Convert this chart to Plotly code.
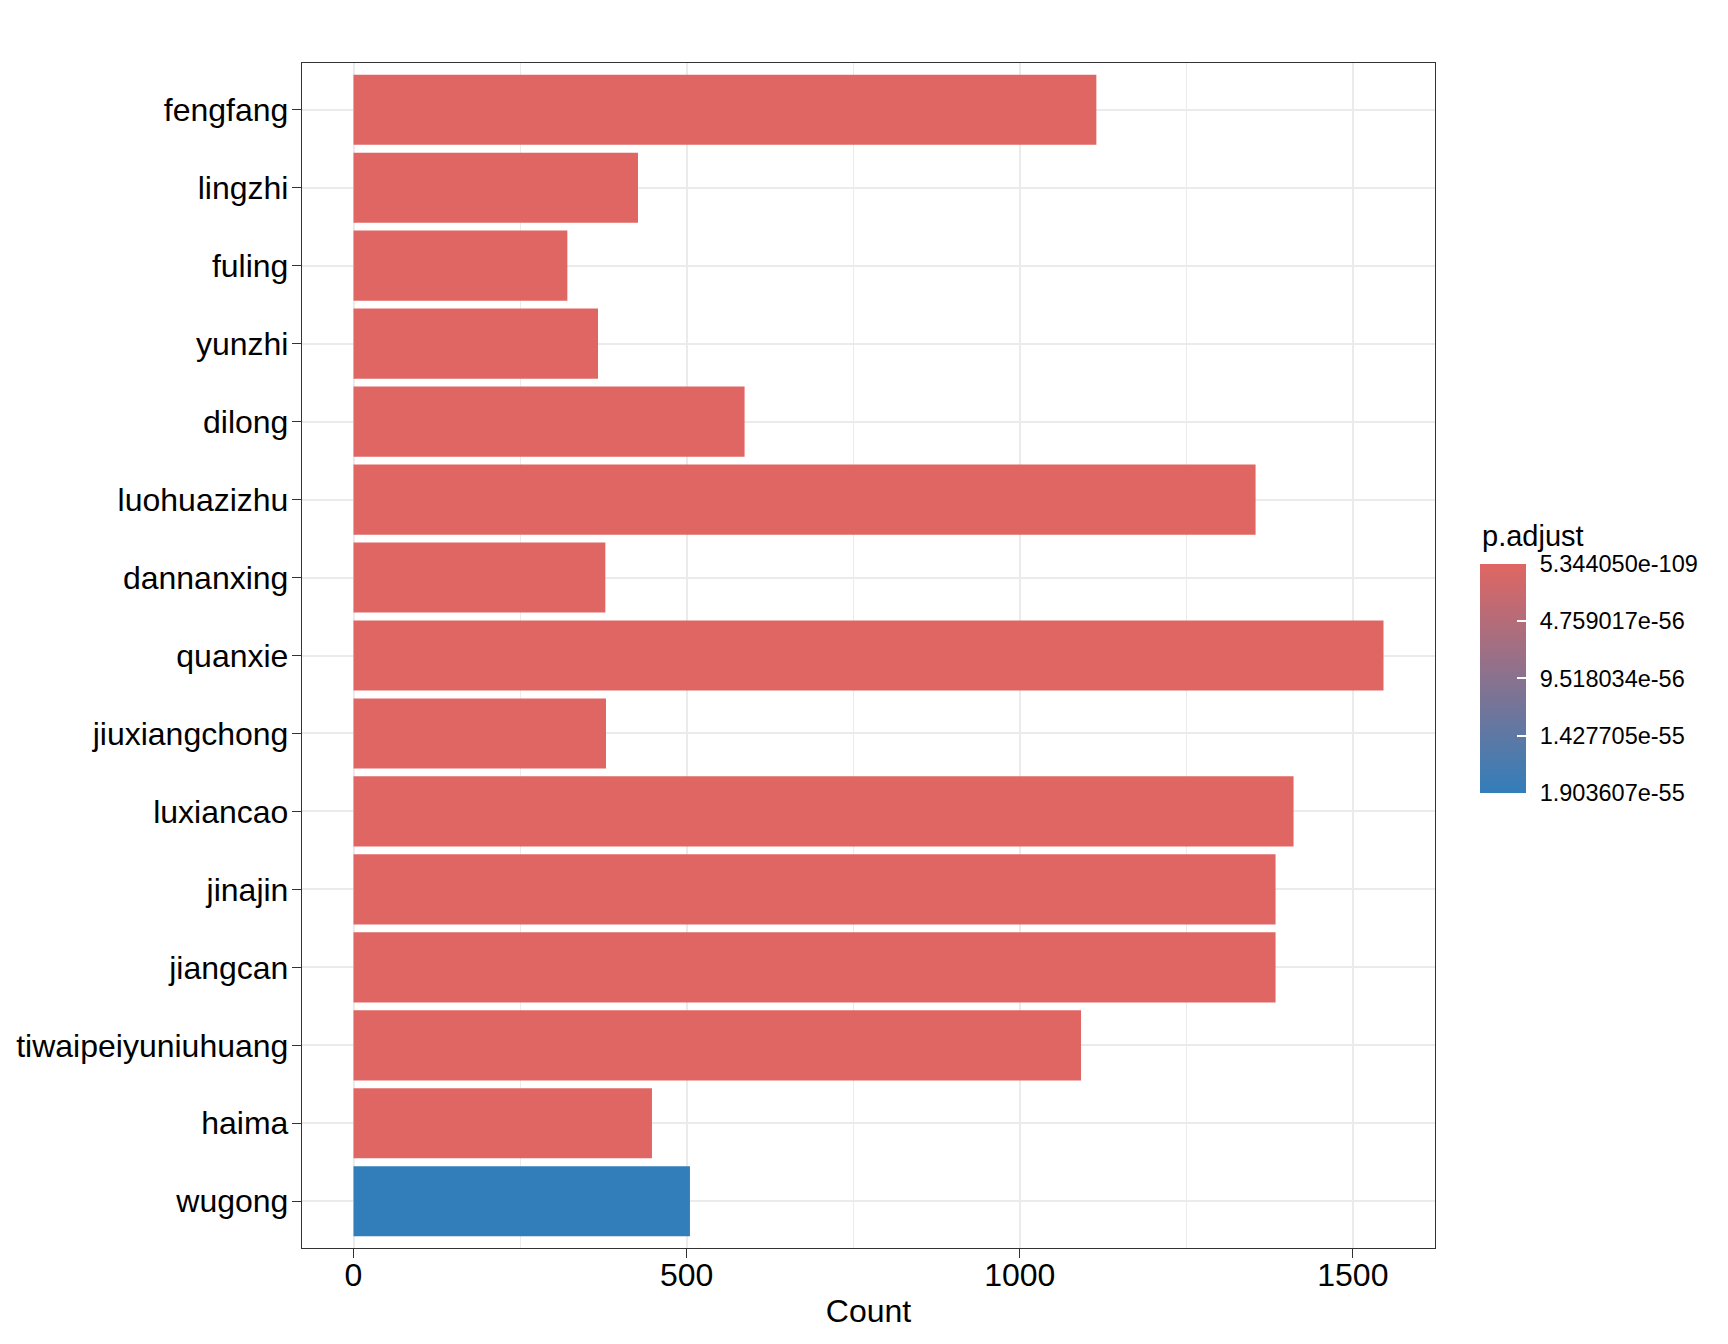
import plotly.graph_objects as go

# ---- data ----
categories = ["fengfang", "lingzhi", "fuling", "yunzhi", "dilong", "luohuazizhu",
              "dannanxing", "quanxie", "jiuxiangchong", "luxiancao", "jinajin",
              "jiangcan", "tiwaipeiyuniuhuang", "haima", "wugong"]
counts = [1115, 427, 321, 367, 587, 1354, 378, 1546, 379, 1411, 1384, 1384, 1092, 448, 505]
p_adjust = [2.1e-95, 3.4e-70, 1.2e-65, 6.8e-72, 4.5e-80, 8.9e-100, 2.7e-75,
            5.344050e-109, 1.9e-74, 3.3e-104, 7.1e-102, 7.1e-102, 1.5e-93, 9.2e-68,
            1.903607e-55]
legend_ticktext = ["5.344050e-109", "4.759017e-56", "9.518034e-56",
                   "1.427705e-55", "1.903607e-55"]
legend_title = "p.adjust"
x_tickvals = [0, 500, 1000, 1500]

LOW_COLOR = "#e06663"
HIGH_COLOR = "#327eba"
FONT = "Liberation Sans, Arial, sans-serif"

pmin, pmax = min(p_adjust), max(p_adjust)
# reversed colour bar: smallest p at the top
cvals = [-p for p in p_adjust]
legend_tickvals = [-(pmin + i * (pmax - pmin) / 4) for i in range(5)]
legend_labels = ["\u00a0\u200a" + t for t in legend_ticktext]

cmax_x = max(counts)
x_range = [-0.05 * cmax_x, 1.05 * cmax_x]
n = len(categories)

CB_X = 1.0397

fig = go.Figure(go.Bar(
    y=categories,
    x=counts,
    orientation="h",
    width=0.9,
    marker=dict(
        color=cvals,
        cmin=-pmax,
        cmax=-pmin,
        colorscale=[[0, HIGH_COLOR], [1, LOW_COLOR]],
        line=dict(width=0),
        showscale=True,
        colorbar=dict(
            x=CB_X, xanchor="left", xpad=0,
            y=0.4806, yanchor="middle", ypad=0,
            thickness=46, thicknessmode="pixels",
            len=229, lenmode="pixels",
            outlinewidth=0,
            tickvals=legend_tickvals,
            ticktext=legend_labels,
            ticks="inside", ticklen=9, tickcolor="white", tickwidth=1.5,
            tickfont=dict(family=FONT, size=23.5, color="black"),
        ),
    ),
    hoverinfo="x+y",
))

fig.add_annotation(
    text=legend_title, xref="paper", yref="paper",
    x=CB_X, y=0.6008, xanchor="left", yanchor="middle",
    showarrow=False, font=dict(family=FONT, size=29, color="black"),
)

fig.update_layout(
    width=1720, height=1336,
    margin=dict(l=294, r=293, t=55, b=96, autoexpand=False),
    paper_bgcolor="white",
    plot_bgcolor="white",
    showlegend=False,
    font=dict(family=FONT, color="black"),
    xaxis=dict(
        range=x_range,
        tickvals=x_tickvals,
        automargin=False,
        showgrid=True, gridcolor="#EBEBEB", gridwidth=1.6,
        minor=dict(dtick=250, tick0=0, showgrid=True, gridcolor="#EBEBEB", gridwidth=1.0),
        zeroline=False,
        showline=True, mirror=True, linecolor="#333333", linewidth=1.4,
        ticks="outside", ticklen=9, tickwidth=1.4, tickcolor="#333333",
        ticklabelstandoff=-11,
        tickfont=dict(family=FONT, size=32, color="black"),
        title=dict(text="Count", standoff=8,
                   font=dict(family=FONT, size=32, color="black")),
    ),
    yaxis=dict(
        categoryorder="array",
        categoryarray=categories[::-1],
        range=[-0.6, n - 0.4],
        automargin=False,
        showgrid=True, gridcolor="#EBEBEB", gridwidth=1.6,
        zeroline=False,
        showline=True, mirror=True, linecolor="#333333", linewidth=1.4,
        ticks="outside", ticklen=9, tickwidth=1.4, tickcolor="#333333",
        ticklabelstandoff=-3,
        tickfont=dict(family=FONT, size=32, color="black"),
    ),
)

fig.write_html("out.html")
